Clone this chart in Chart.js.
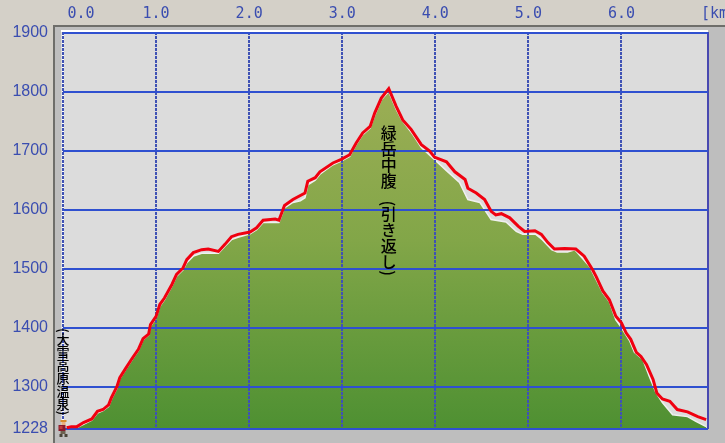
<!DOCTYPE html>
<html lang="ja">
<head>
<meta charset="utf-8">
<script src="https://cdn.jsdelivr.net/npm/chart.js@4/dist/chart.umd.min.js"></script>
<style>
html,body{margin:0;padding:0;background:#D4D0C8;width:725px;height:443px;overflow:hidden}
#wrap{position:relative;width:725px;height:443px;overflow:hidden}
canvas{display:block}
.place{position:absolute;writing-mode:vertical-rl;font-family:"Noto Sans CJK JP";font-weight:500;color:#000;white-space:pre;line-height:1;word-spacing:8px}
</style>
</head>
<body>
<div id="wrap"><canvas id="c" width="725" height="443"></canvas></div>
<script>
const kmTicks = [0, 1, 2, 3, 4, 5, 6, 7];
const kmLabels = ["0.0", "1.0", "2.0", "3.0", "4.0", "5.0", "6.0", "[km"];
const elevTicks = [1228, 1300, 1400, 1500, 1600, 1700, 1800, 1900];

const trackKm = [0.04,0.09,0.15,0.22,0.31,0.37,0.43,0.49,0.52,0.58,0.61,0.67,0.74,0.81,0.86,0.92,0.94,1.00,1.04,1.09,1.17,1.22,1.29,1.33,1.40,1.49,1.56,1.67,1.74,1.81,1.88,2.01,2.08,2.15,2.28,2.32,2.38,2.47,2.60,2.63,2.71,2.76,2.90,2.99,3.08,3.15,3.22,3.30,3.35,3.42,3.50,3.58,3.65,3.74,3.85,3.94,3.99,4.12,4.21,4.32,4.35,4.44,4.53,4.60,4.65,4.71,4.80,4.89,4.96,5.07,5.14,5.21,5.28,5.39,5.51,5.60,5.69,5.73,5.80,5.87,5.94,6.00,6.05,6.10,6.16,6.21,6.27,6.34,6.38,6.44,6.52,6.60,6.71,6.82,6.91];
const trackElev = [1230,1232,1232,1239,1245,1258,1261,1269,1281,1300,1315,1330,1347,1363,1381,1389,1405,1419,1439,1450,1473,1490,1501,1515,1527,1532,1533,1529,1541,1554,1558,1562,1569,1582,1584,1582,1607,1617,1628,1648,1654,1664,1679,1685,1693,1713,1730,1741,1764,1789,1805,1775,1752,1736,1710,1699,1689,1681,1664,1651,1636,1628,1617,1597,1591,1593,1586,1572,1563,1564,1558,1544,1533,1534,1533,1521,1498,1486,1462,1447,1419,1408,1391,1380,1358,1351,1337,1312,1289,1279,1275,1261,1257,1249,1244];

const terrainKm = [0.12,0.22,0.31,0.37,0.43,0.49,0.52,0.58,0.61,0.67,0.74,0.81,0.86,0.92,0.94,1.00,1.04,1.09,1.17,1.22,1.29,1.33,1.40,1.49,1.56,1.67,1.74,1.81,1.88,2.01,2.08,2.15,2.28,2.32,2.38,2.47,2.55,2.60,2.63,2.71,2.76,2.90,2.99,3.08,3.15,3.22,3.30,3.35,3.42,3.50,3.58,3.64,3.76,3.85,3.99,4.12,4.26,4.35,4.48,4.60,4.76,4.87,4.94,5.08,5.15,5.25,5.31,5.42,5.50,5.66,5.72,5.80,5.87,5.94,6.00,6.09,6.14,6.23,6.30,6.37,6.44,6.55,6.71,6.80,6.91];
const terrainElev = [1228,1236,1243,1255,1259,1266,1278,1297,1313,1328,1345,1361,1379,1387,1402,1416,1436,1447,1470,1487,1498,1510,1521,1526,1526,1526,1538,1549,1553,1559,1566,1578,1578,1578,1603,1612,1615,1620,1642,1650,1660,1676,1682,1690,1710,1727,1738,1760,1786,1800,1770,1752,1727,1705,1685,1666,1646,1617,1612,1583,1579,1563,1558,1558,1549,1532,1528,1528,1532,1503,1484,1459,1444,1413,1400,1377,1358,1346,1317,1290,1273,1252,1249,1241,1232];

const placeNames = ["(大雪高原温泉)", "緑岳中腹 (引き返し)"];
const placeKm = [0, 3.5];
const placeElev = [1400, 1744];

const startKm = [0];
const startElev = [1228];

const pairs = (xs, ys) => xs.map((x, i) => ({x, y: ys[i]}));

function climber() {
  const c = document.createElement('canvas');
  c.width = 11; c.height = 18;
  const g = c.getContext('2d');
  const part = (col, x, y, w, h) => { g.fillStyle = col; g.fillRect(x, y, w, h); };
  part('#D98A2B', 3, 0, 6, 2);
  part('#E8B080', 4, 2, 4, 3);
  part('#8B1A2B', 1, 5, 7, 6);
  part('#C23A3A', 2, 6, 3, 3);
  part('#6E6250', 3, 11, 5, 3);
  part('#4A4438', 2, 14, 3, 3);
  part('#4A4438', 7, 14, 3, 3);
  return c;
}

const panel = {
  id: 'panel',
  beforeDraw(chart) {
    const {ctx, chartArea: a, width, height} = chart;
    ctx.save();
    ctx.fillStyle = '#6E6E6A';
    ctx.fillRect(a.left - 10, a.top - 7, width, height);
    ctx.fillStyle = '#BEBEBE';
    ctx.fillRect(a.left - 8, a.top - 5, width, height);
    ctx.fillStyle = '#FFFFFF';
    ctx.fillRect(a.left - 2, a.top - 2, a.width + 2, 2);
    ctx.fillStyle = '#DCDCDC';
    ctx.fillRect(a.left - 2, a.top, a.width + 2, a.height);
    ctx.fillStyle = '#FFFFFF';
    ctx.fillRect(a.left - 1, a.top, 2, a.height);
    ctx.fillStyle = '#4848B0';
    ctx.fillRect(a.right - 1, a.top, 2, a.height);
    ctx.restore();
    const x = chart.scales.x;
    const first = x.getLabelItems()[0];
    first.options.translation[0] = x.getPixelForValue(0) + 18;
  },
  beforeDatasetDraw(chart, args) {
    if (args.index === 1) {
      chart.scales.x.drawGrid(chart.chartArea);
      chart.scales.y.drawGrid(chart.chartArea);
    }
  },
  afterRender(chart) {
    const wrap = document.getElementById('wrap');
    wrap.querySelectorAll('.place').forEach(e => e.remove());
    const sizes = [13, 16];
    placeNames.forEach((name, i) => {
      const d = document.createElement('div');
      d.className = 'place';
      d.textContent = name;
      d.style.fontSize = sizes[i] + 'px';
      d.style.left = (chart.scales.x.getPixelForValue(placeKm[i]) - sizes[i] / 2) + 'px';
      d.style.top = chart.scales.y.getPixelForValue(placeElev[i]) + 'px';
      wrap.appendChild(d);
    });
  }
};

new Chart(document.getElementById('c'), {
  type: 'line',
  data: {
    datasets: [
      {
        label: 'start',
        data: pairs(startKm, startElev),
        showLine: false,
        pointStyle: climber(),
        pointRadius: 9,
        clip: false
      },
      {
        label: 'track',
        data: pairs(trackKm, trackElev),
        borderColor: '#F00010',
        borderWidth: 3,
        pointRadius: 0,
        tension: 0,
        fill: false
      },
      {
        label: 'terrain',
        data: pairs(terrainKm, terrainElev),
        borderColor: '#F0F0F0',
        borderWidth: 1.5,
        pointRadius: 0,
        tension: 0,
        fill: 'start',
        backgroundColor(context) {
          const a = context.chart.chartArea;
          if (!a) return '#7BA545';
          const g = context.chart.ctx.createLinearGradient(0, a.top + 55, 0, a.bottom);
          g.addColorStop(0, '#9CAE55');
          g.addColorStop(0.45, '#82A648');
          g.addColorStop(1, '#4E9032');
          return g;
        }
      }
    ]
  },
  plugins: [panel],
  options: {
    responsive: false,
    animation: false,
    events: [],
    layout: {padding: {right: 17, bottom: 14, left: 0, top: 0}},
    plugins: {legend: {display: false}, tooltip: {enabled: false}, title: {display: false}},
    scales: {
      x: {
        type: 'linear',
        position: 'top',
        min: 0,
        max: 6.93,
        afterBuildTicks(s) { s.ticks = kmTicks.map(value => ({value})); },
        afterFit(s) { s.height = 32; s.paddingLeft = 0; s.paddingRight = 0; },
        grid: {
          drawTicks: false,
          lineWidth: 2,
          color: c => (c.tick && c.tick.value > 6.93) ? 'rgba(0,0,0,0)' : '#3F52B4'
        },
        border: {display: false, dash: [3, 1]},
        ticks: {
          autoSkip: false,
          maxRotation: 0,
          padding: 9,
          color: '#3A4DB0',
          font: {family: '"DejaVu Sans Mono"', size: 15},
          callback: (v) => kmLabels[kmTicks.indexOf(v)]
        }
      },
      y: {
        type: 'linear',
        position: 'left',
        min: 1228,
        max: 1901,
        afterBuildTicks(s) { s.ticks = elevTicks.map(value => ({value})); },
        afterFit(s) { s.width = 63; s.paddingTop = 0; s.paddingBottom = 0; },
        grid: {drawTicks: false, lineWidth: 2, color: '#2F50D0'},
        border: {display: false},
        ticks: {
          autoSkip: false,
          padding: 15,
          color: '#3A4DB0',
          font: {family: '"Liberation Sans"', size: 16},
          callback: (v) => String(v)
        }
      }
    }
  }
});
</script>
</body>
</html>
